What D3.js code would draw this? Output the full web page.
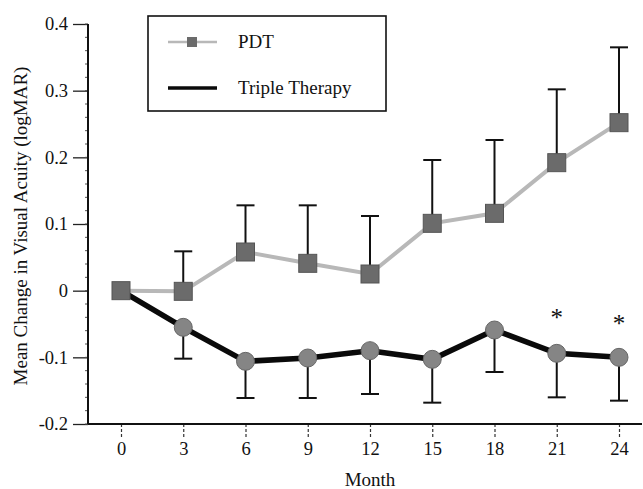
<!DOCTYPE html>
<html lang="en">
<head>
    <meta charset="UTF-8">
    <title>Visual acuity change</title>
    <script src="https://d3js.org/d3.v7.min.js"></script>
    <style>
        body{margin:0;background:#fff;}
        svg{display:block;}
        text{font-family:"Liberation Serif","Times New Roman",serif;fill:#111;}
    </style>
</head>
<body>
<svg width="643" height="489"></svg>

<script>
    // values
    const months = [0, 3, 6, 9, 12, 15, 18, 21, 24]
    const pdtMean = [0, -0.001, 0.058, 0.041, 0.025, 0.101, 0.116, 0.192, 0.252]
    const pdtUpper = [null, 0.059, 0.128, 0.128, 0.112, 0.196, 0.226, 0.302, 0.365]
    const tripleMean = [0, -0.055, -0.106, -0.101, -0.090, -0.103, -0.059, -0.094, -0.100]
    const tripleLower = [null, -0.102, -0.161, -0.161, -0.155, -0.168, -0.122, -0.160, -0.165]
    const starMonths = [21, 24]
    const starValues = [-0.033, -0.042]
    const yTicks = [-0.2, -0.1, 0, 0.1, 0.2, 0.3, 0.4]
    const yTickLabels = ["-0.2", "-0.1", "0", "0.1", "0.2", "0.3", "0.4"]
    const seriesNames = ["PDT", "Triple Therapy"]

    const svg = d3.select("svg")
    const x = d3.scaleLinear().domain([0, 24]).range([121, 619])
    const y = d3.scaleLinear().domain([-0.2, 0.4]).range([424, 24])
    const axisX0 = 88, axisX1 = 642

    // y axis
    const yAxis = svg.append("g").attr("transform", `translate(${axisX0},0)`)
    yAxis.call(d3.axisLeft(y).tickValues(yTicks).tickSize(15).tickSizeOuter(0)
        .tickFormat((d, i) => yTickLabels[i]))
    yAxis.select(".domain").remove()
    yAxis.selectAll(".tick line").attr("stroke", "#222").attr("stroke-width", 1.3)
    yAxis.selectAll(".tick text").attr("font-size", 18.5).attr("x", -20)
        .style("font-family", "Liberation Serif, serif").attr("fill", "#111")
    // minor ticks
    yAxis.selectAll("line.minor").data(d3.range(-0.2, 0.4001, 0.02))
        .enter().append("line").attr("class", "minor")
        .attr("x1", -3).attr("x2", 0)
        .attr("y1", d => y(d)).attr("y2", d => y(d))
        .attr("stroke", "#555").attr("stroke-width", 1)
    svg.append("line").attr("x1", axisX0).attr("x2", axisX0)
        .attr("y1", y(0.4)).attr("y2", y(-0.2))
        .attr("stroke", "#111").attr("stroke-width", 2)

    // x axis
    const xAxis = svg.append("g").attr("transform", `translate(0,${y(-0.2)})`)
    xAxis.call(d3.axisBottom(x).tickValues(months).tickSize(13).tickSizeOuter(0))
    xAxis.select(".domain").remove()
    xAxis.selectAll(".tick line").attr("stroke", "#333").attr("stroke-width", 1.2)
        .attr("stroke-dasharray", "3,2")
    xAxis.selectAll(".tick text").attr("font-size", 18.5).attr("y", 18)
        .style("font-family", "Liberation Serif, serif").attr("fill", "#111")
    svg.append("line").attr("x1", axisX0).attr("x2", axisX1)
        .attr("y1", y(-0.2)).attr("y2", y(-0.2))
        .attr("stroke", "#111").attr("stroke-width", 2)

    // axis titles
    svg.append("text").attr("x", x(12)).attr("y", 486)
        .attr("text-anchor", "middle").attr("font-size", 19).text("Month")
    svg.append("text").attr("transform", "translate(27,226) rotate(-90)")
        .attr("text-anchor", "middle").attr("font-size", 19)
        .text("Mean Change in Visual Acuity (logMAR)")

    const line = d3.line().x(d => x(d[0])).y(d => y(d[1]))

    // error bars
    const bars = svg.append("g").attr("class", "errorbars")
    months.forEach((m, i) => {
        if (pdtUpper[i] !== null) {
            bars.append("line").attr("x1", x(m)).attr("x2", x(m))
                .attr("y1", y(pdtMean[i])).attr("y2", y(pdtUpper[i]))
            bars.append("line").attr("x1", x(m) - 9).attr("x2", x(m) + 9)
                .attr("y1", y(pdtUpper[i])).attr("y2", y(pdtUpper[i]))
        }
        if (tripleLower[i] !== null) {
            bars.append("line").attr("x1", x(m)).attr("x2", x(m))
                .attr("y1", y(tripleMean[i])).attr("y2", y(tripleLower[i]))
            bars.append("line").attr("x1", x(m) - 9).attr("x2", x(m) + 9)
                .attr("y1", y(tripleLower[i])).attr("y2", y(tripleLower[i]))
        }
    })
    bars.selectAll("line").attr("stroke", "#111").attr("stroke-width", 2)

    // PDT series
    svg.append("path").datum(months.map((m, i) => [m, pdtMean[i]]))
        .attr("d", line).attr("fill", "none")
        .attr("stroke", "#b8b8b8").attr("stroke-width", 4)
    // Triple therapy series
    svg.append("path").datum(months.map((m, i) => [m, tripleMean[i]]))
        .attr("d", line).attr("fill", "none")
        .attr("stroke", "#0a0a0a").attr("stroke-width", 5.5)

    svg.append("g").selectAll("circle")
        .data(months.slice(1).map((m, i) => [m, tripleMean[i + 1]]))
        .enter().append("circle")
        .attr("cx", d => x(d[0])).attr("cy", d => y(d[1])).attr("r", 9)
        .attr("fill", "#858585").attr("stroke", "#666").attr("stroke-width", 1)

    svg.append("g").selectAll("rect")
        .data(months.map((m, i) => [m, pdtMean[i]]))
        .enter().append("rect")
        .attr("x", d => x(d[0]) - 9).attr("y", d => y(d[1]) - 9)
        .attr("width", 18).attr("height", 18)
        .attr("fill", "#6b6b6b").attr("stroke", "#555").attr("stroke-width", 1)

    // significance markers
    svg.append("g").selectAll("text")
        .data(starMonths.map((m, i) => [m, starValues[i]]))
        .enter().append("text")
        .attr("x", d => x(d[0])).attr("y", d => y(d[1]) + 13)
        .attr("text-anchor", "middle").attr("font-size", 25).text("*")

    // legend
    const legend = svg.append("g").attr("class", "legend")
    legend.append("rect").attr("x", 148).attr("y", 16).attr("width", 238).attr("height", 95)
        .attr("fill", "#fff").attr("stroke", "#111").attr("stroke-width", 1.6)
    legend.append("line").attr("x1", 168).attr("x2", 217).attr("y1", 42).attr("y2", 42)
        .attr("stroke", "#b8b8b8").attr("stroke-width", 2.5)
    legend.append("rect").attr("x", 187).attr("y", 37).attr("width", 10).attr("height", 10)
        .attr("fill", "#6b6b6b")
    legend.append("line").attr("x1", 168).attr("x2", 217).attr("y1", 88).attr("y2", 88)
        .attr("stroke", "#0a0a0a").attr("stroke-width", 3.5)
    legend.selectAll("text.lab").data(seriesNames).enter().append("text")
        .attr("class", "lab").attr("x", 238).attr("y", (d, i) => 48 + i * 46)
        .attr("font-size", 19).text(d => d)
</script>
</body>
</html>
